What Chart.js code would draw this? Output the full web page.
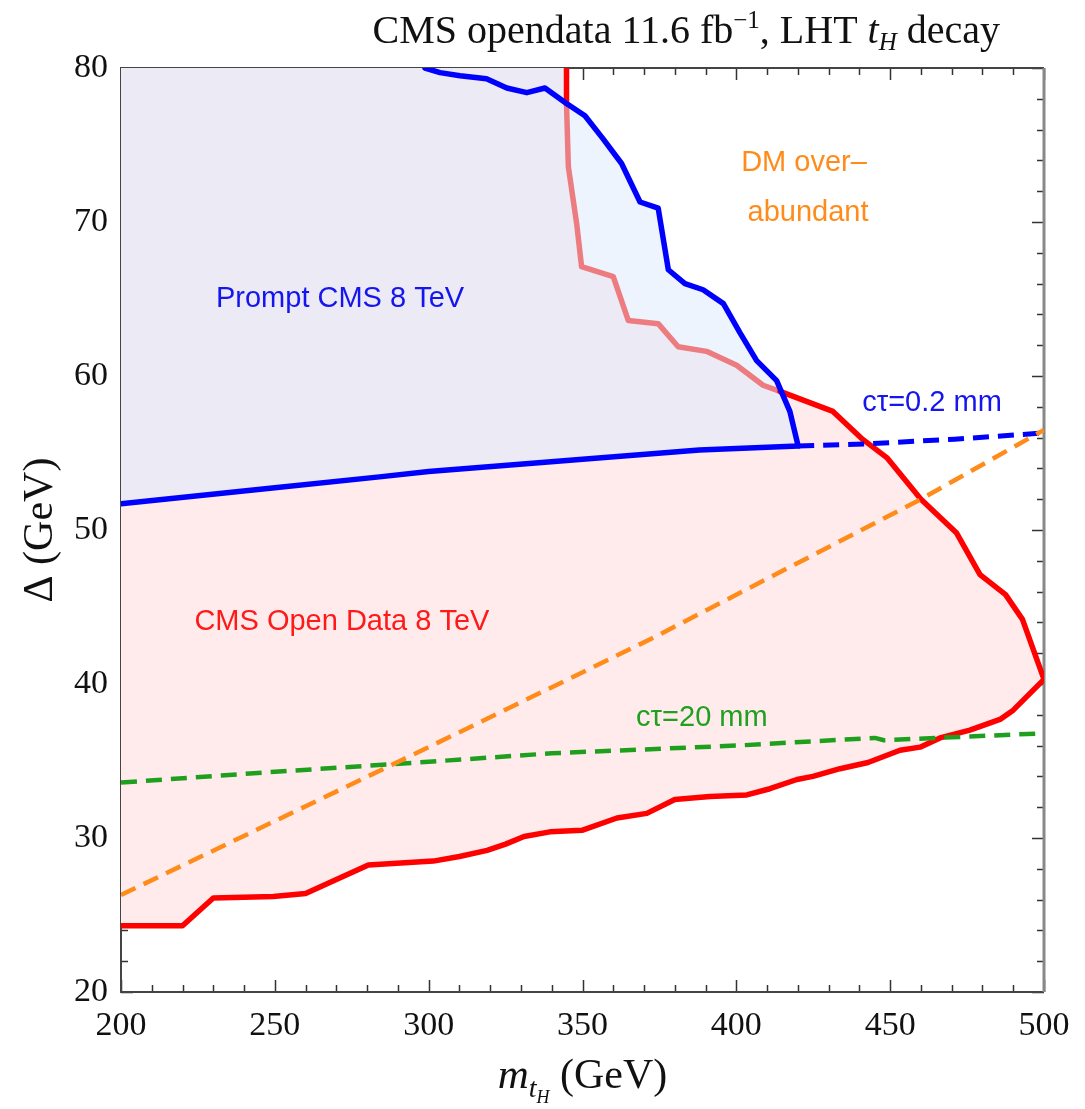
<!DOCTYPE html>
<html>
<head>
<meta charset="utf-8">
<script src="https://cdn.jsdelivr.net/npm/chart.js@4.4.1/dist/chart.umd.min.js"></script>
<style>
  html, body { margin: 0; padding: 0; background: #fff; }
</style>
</head>
<body>
<canvas id="c" width="1085" height="1109"></canvas>
<script>
// LHT t_H decay, CMS open data 11.6 fb^-1 : plane (m_tH, Delta)
const xRange = [200, 500];
const yRange = [20, 80];
const xTicks = [200, 250, 300, 350, 400, 450, 500];
const yTicks = [20, 30, 40, 50, 60, 70, 80];

// CMS Open Data 8 TeV contour (red) - lower edge, left to right
const openLowM = [200, 220, 230, 249.5, 260, 270, 280.4, 301.5, 310, 319, 325, 331, 339.4, 349.8, 361.2, 370.9, 380, 391.4, 403.4, 410.9, 419.7, 424.9, 433.7, 442.8, 453.2, 459.7, 466.2, 475.9, 485.7, 490, 500];
const openLowD = [24.3, 24.3, 26.1, 26.2, 26.4, 27.3, 28.25, 28.5, 28.8, 29.2, 29.6, 30.1, 30.4, 30.5, 31.3, 31.6, 32.5, 32.7, 32.8, 33.2, 33.8, 34.0, 34.5, 34.9, 35.7, 35.9, 36.5, 37.0, 37.7, 38.3, 40.3];
// right edge, going up-left until it meets the prompt contour
const openRightM = [500, 493, 487.5, 479.2, 471.6, 460, 448.9, 441, 431.4, 414.2];
const openRightD = [40.3, 44.2, 45.8, 47.1, 49.8, 52.0, 54.7, 55.9, 57.7, 59.0];
// part lying under the prompt region (shown faded)
const openInnerM = [414.2, 408.7, 400.1, 390.3, 381.1, 374.6, 364.9, 360.0, 349.7, 348.1, 345.4, 344.8];
const openInnerD = [59.0, 59.4, 60.7, 61.6, 61.9, 63.4, 63.6, 66.45, 67.1, 69.9, 73.6, 77.7];
const openTopM = [344.8, 344.8];
const openTopD = [77.7, 80];

// Prompt CMS 8 TeV contour (blue)
const promptLowM = [200, 250, 284, 300, 350, 388, 420.1];
const promptLowD = [51.7, 52.75, 53.45, 53.8, 54.6, 55.2, 55.45];
const promptEdgeM = [420.1, 417.4, 413.1, 406.6, 401.2, 395.8, 389.2, 383.3, 377.9, 374.6, 368.7, 362.7, 356.7, 350.8, 344.8, 337.8, 331.9, 325.4, 318.8, 310.2, 303.7, 298.8];
const promptEdgeD = [55.45, 57.7, 59.7, 61.0, 62.8, 64.7, 65.6, 66.0, 66.9, 70.9, 71.3, 73.8, 75.4, 76.9, 77.7, 78.7, 78.4, 78.7, 79.3, 79.5, 79.7, 80];

// c tau = 0.2 mm (blue dashed)
const ct02M = [420.1, 443.4, 471, 500];
const ct02D = [55.45, 55.6, 55.9, 56.3];
// c tau = 20 mm (green dashed)
const ct20M = [200, 250, 300, 340, 400, 445, 448, 500];
const ct20D = [33.6, 34.3, 34.95, 35.5, 36.0, 36.5, 36.35, 36.8];
// DM over-abundance boundary (orange dashed)
const dmM = [200, 300, 372, 460, 500];
const dmD = [26.3, 35.9, 42.9, 52.0, 56.5];

function pts(xs, ys) { return xs.map((v, i) => ({ x: v, y: ys[i] })); }

const corner = { x: xRange[0], y: yRange[1] };
const openLine = pts(openLowM, openLowD).concat(pts(openRightM, openRightD).slice(1));
const openInner = pts(openInnerM, openInnerD);
const openTop = pts(openTopM, openTopD);
const promptLow = pts(promptLowM, promptLowD);
const promptEdge = pts(promptEdgeM, promptEdgeD);

const redFill = openLine.concat(openInner.slice(1), openTop.slice(1), [corner]);
const blueFill = promptLow.concat(promptEdge.slice(1), [corner]);
const overlapFill = promptLow.concat(
  promptEdge.slice(1).filter(p => p.y < openInnerD[0]),
  openInner, openTop.slice(1), [corner]);

const textLabels = [
  { text: 'Prompt CMS 8 TeV', m: 271.2, d: 65.0, color: '#1515ee' },
  { text: 'CMS Open Data 8 TeV', m: 271.8, d: 44.0, color: '#ff1a1a' },
  { text: 'DM over\u2013', m: 422, d: 73.8, color: '#ff8c1a' },
  { text: 'abundant', m: 423.3, d: 70.6, color: '#ff8c1a' },
  { text: 'c\u03c4=0.2 mm', m: 463.6, d: 58.25, color: '#1515ee' },
  { text: 'c\u03c4=20 mm', m: 388.8, d: 37.8, color: '#1fa01f' },
];

function area(data, color, order) {
  return { data, showLine: true, fill: 'shape', backgroundColor: color, borderWidth: 0,
    borderColor: 'rgba(0,0,0,0)', pointRadius: 0, order };
}
function curve(data, color, width, dash, order) {
  return { data, showLine: true, fill: false, borderColor: color, borderWidth: width,
    borderDash: dash || [], borderCapStyle: dash ? 'butt' : 'round', borderJoinStyle: 'round',
    pointRadius: 0, tension: 0, order };
}

function rich(ctx, parts, x, y, align) {
  let w = 0;
  parts.forEach(p => { ctx.font = p[1]; w += ctx.measureText(p[0]).width; });
  let cx = align === 'right' ? x - w : align === 'center' ? x - w / 2 : x;
  ctx.textAlign = 'left';
  parts.forEach(p => {
    ctx.font = p[1];
    ctx.fillText(p[0], cx, y + (p[2] || 0));
    cx += ctx.measureText(p[0]).width;
  });
}

const frame = {
  id: 'frame',
  beforeDatasetsDraw(chart) {
    const { ctx, chartArea: a, scales: { x, y } } = chart;
    ctx.save();
    ctx.strokeStyle = '#333';
    ctx.lineWidth = 1.5;
    ctx.beginPath();
    for (let m = xRange[0]; m <= xRange[1]; m += 10) {
      const px = Math.round(x.getPixelForValue(m)) + 0.5;
      const len = xTicks.includes(m) ? 12 : 7;
      ctx.moveTo(px, a.bottom); ctx.lineTo(px, a.bottom - len);
      ctx.moveTo(px, a.top); ctx.lineTo(px, a.top + len);
    }
    for (let d = yRange[0]; d <= yRange[1]; d += 2) {
      const py = Math.round(y.getPixelForValue(d)) + 0.5;
      const len = yTicks.includes(d) ? 12 : 7;
      ctx.moveTo(a.left, py); ctx.lineTo(a.left + len, py);
      ctx.moveTo(a.right, py); ctx.lineTo(a.right - len, py);
    }
    ctx.stroke();
    ctx.lineWidth = 2;
    ctx.strokeStyle = '#444';
    ctx.beginPath();
    ctx.moveTo(a.right, a.top); ctx.lineTo(a.left, a.top);
    ctx.lineTo(a.left, a.bottom); ctx.lineTo(a.right, a.bottom);
    ctx.stroke();
    ctx.strokeStyle = '#888';
    ctx.lineWidth = 3;
    ctx.beginPath();
    ctx.moveTo(a.right, a.top); ctx.lineTo(a.right, a.bottom);
    ctx.stroke();
    ctx.restore();
  },
  afterDraw(chart) {
    const { ctx, chartArea: a, scales: { x, y } } = chart;
    ctx.save();
    ctx.textBaseline = 'middle';
    ctx.textAlign = 'center';
    ctx.font = '29px "Liberation Sans", Arial, sans-serif';
    textLabels.forEach(l => {
      ctx.fillStyle = l.color;
      ctx.fillText(l.text, x.getPixelForValue(l.m), y.getPixelForValue(l.d));
    });

    ctx.fillStyle = '#111';
    ctx.textBaseline = 'alphabetic';
    const serif = '"Liberation Serif", "Times New Roman", serif';
    // title
    rich(ctx, [
      ['CMS opendata 11.6 fb', '40px ' + serif],
      ['\u22121', '25px ' + serif, -15],
      [', LHT ', '40px ' + serif],
      ['t', 'italic 40px ' + serif],
      ['H', 'italic 25px ' + serif, 7],
      [' decay', '40px ' + serif],
    ], 1000, 43, 'right');
    // x title
    rich(ctx, [
      ['m', 'italic 43px ' + serif],
      ['t', 'italic 28px ' + serif, 9],
      ['H', 'italic 18px ' + serif, 15],
      [' (GeV)', '42px ' + serif],
    ], (a.left + a.right) / 2, 1088, 'center');
    // y title
    ctx.translate(52, (a.top + a.bottom) / 2);
    ctx.rotate(-Math.PI / 2);
    rich(ctx, [['\u0394 (GeV)', '42px ' + serif]], 0, 0, 'center');
    ctx.restore();
  }
};

const tickFont = { family: '"Liberation Serif", "Times New Roman", serif', size: 34 };

new Chart(document.getElementById('c'), {
  type: 'scatter',
  data: {
    datasets: [
      area(redFill, '#ffebeb', 10),
      area(blueFill, '#edf4fe', 9),
      area(overlapFill, '#eceaf5', 8),
      curve(openInner, '#ec7c80', 5.5, null, 7),
      curve(openLine, '#ff0000', 5.5, null, 6),
      curve(openTop, '#ff0000', 5.5, null, 6),
      curve(promptLow.concat(promptEdge.slice(1)), '#0000ff', 5.5, null, 5),
      curve(pts(ct02M, ct02D), '#0000ff', 5, [16, 9], 4),
      curve(pts(ct20M, ct20D), '#1ea01e', 4.5, [16, 9], 3),
      curve(pts(dmM, dmD), '#ff8c1a', 4.5, [16, 9], 2),
    ]
  },
  options: {
    responsive: false,
    animation: false,
    events: [],
    layout: { padding: { top: 68, right: 41, left: 0, bottom: 0 } },
    plugins: { legend: { display: false }, tooltip: { enabled: false } },
    scales: {
      x: {
        type: 'linear', min: xRange[0], max: xRange[1],
        grid: { display: false, drawTicks: false }, border: { display: false },
        afterBuildTicks: s => { s.ticks = xTicks.map(v => ({ value: v })); },
        afterFit: s => { s.height = 117; },
        ticks: { font: tickFont, color: '#111', padding: 14, maxRotation: 0, autoSkip: false }
      },
      y: {
        type: 'linear', min: yRange[0], max: yRange[1],
        grid: { display: false, drawTicks: false }, border: { display: false },
        afterBuildTicks: s => { s.ticks = yTicks.map(v => ({ value: v })); },
        afterFit: s => { s.width = 121; },
        ticks: { font: tickFont, color: '#111', padding: 13, autoSkip: false }
      }
    }
  },
  plugins: [frame]
});
</script>
</body>
</html>
